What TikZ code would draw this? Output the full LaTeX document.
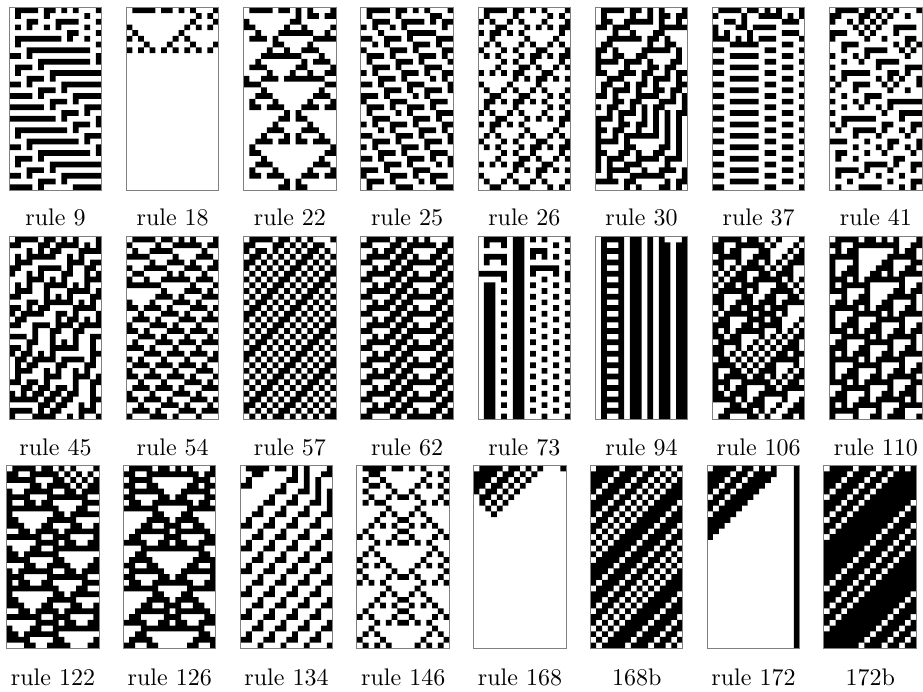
\documentclass[tikz,border=0pt]{standalone}
\usepackage{tikz}

\makeatletter
\newcount\ca@i \newcount\ca@k \newcount\ca@l \newcount\ca@r \newcount\ca@y \newcount\ca@t
% bits of the rule number -> \ca@b@0 ... \ca@b@7
\def\ca@rulebits#1{\ca@t=#1\relax \ca@k=0\relax
  \loop
    \ca@i=\ca@t\relax \divide\ca@i by 2\relax \multiply\ca@i by 2\relax
    \expandafter\edef\csname ca@b@\the\ca@k\endcsname{\the\numexpr\ca@t-\ca@i\relax}%
    \divide\ca@t by 2\relax
    \advance\ca@k by 1\relax
  \ifnum\ca@k<8 \repeat}
% first row, 16 digits
\def\ca@parse#1{\ca@i=0\relax\ca@parse@#1\relax}
\def\ca@parse@#1{\ifx\relax#1\else
    \expandafter\def\csname ca@o@\the\ca@i\endcsname{#1}%
    \advance\ca@i by 1\relax
    \expandafter\ca@parse@\fi}
% one time step, periodic ends
\def\ca@step{%
  \ca@i=0\relax
  \loop
    \ca@l=\ca@i\relax \advance\ca@l by -1\relax \ifnum\ca@l<0 \ca@l=15\relax\fi
    \ca@r=\ca@i\relax \advance\ca@r by 1\relax \ifnum\ca@r>15 \ca@r=0\relax\fi
    \ca@k=\numexpr 4*\csname ca@o@\the\ca@l\endcsname
      +2*\csname ca@o@\the\ca@i\endcsname
      +\csname ca@o@\the\ca@r\endcsname\relax
    \expandafter\edef\csname ca@n@\the\ca@i\endcsname{\csname ca@b@\the\ca@k\endcsname}%
    \advance\ca@i by 1\relax
  \ifnum\ca@i<16 \repeat
  \ca@i=0\relax
  \loop
    \expandafter\edef\csname ca@o@\the\ca@i\endcsname{\csname ca@n@\the\ca@i\endcsname}%
    \advance\ca@i by 1\relax
  \ifnum\ca@i<16 \repeat}
% black cells of the current row
\def\ca@addrow{%
  \ca@i=0\relax
  \loop
    \if1\csname ca@o@\the\ca@i\endcsname
      \edef\ca@path{\ca@path (\the\ca@i,\the\ca@y) rectangle ++(1,1)}%
    \fi
    \advance\ca@i by 1\relax
  \ifnum\ca@i<16 \repeat}
\def\ca@rows{\ca@addrow\ca@step\advance\ca@y by 1\relax
  \ifnum\ca@y<32 \expandafter\ca@rows\fi}
\newcommand\castrip[2]{%
  \ca@rulebits{#1}%
  \edef\ca@init{#2}\expandafter\ca@parse\expandafter{\ca@init}%
  \def\ca@path{}\ca@y=0\relax\ca@rows
  \edef\ca@do{\noexpand\fill\ca@path;}\ca@do}
\makeatother

\def\initrow{0111101101010001}
\def\initb{0111101110110101}

\begin{document}
\begin{tikzpicture}[x=0.4167pt, y=-0.4167pt,
    cell/.style={x=2.408pt, y=-2.379pt},
    frame/.style={draw=black!50, line width=0.4pt},
    caption/.style={anchor=base}]
  \useasboundingbox (0,0) rectangle (923,691);

  % top row
  \foreach \rn [count=\j from 0] in {9,18,22,25,26,30,37,41} {
    \begin{scope}[shift={(9.3+117.2*\j,7.4)}, cell]
      \castrip{\rn}{\initrow}
      \draw[frame] (0,0) rectangle (16,32);
    \end{scope}
    \node[caption] (lab\rn) at (55.5+117.2*\j,225) {rule \rn};
  }

  % middle row
  \foreach \rn [count=\j from 0] in {45,54,57,62,73,94,106,110} {
    \begin{scope}[shift={(9.3+117.2*\j,236.7)}, cell]
      \castrip{\rn}{\initrow}
      \draw[frame] (0,0) rectangle (16,32);
    \end{scope}
    \node[caption] (lab\rn) at (55.5+117.2*\j,455) {rule \rn};
  }

  % bottom row
  \foreach \rn/\txt/\ini [count=\j from 0] in {122/rule 122/\initrow,
      126/rule 126/\initrow, 134/rule 134/\initrow, 146/rule 146/\initrow,
      168/rule 168/\initrow, 168/168b/\initb, 172/rule 172/\initrow, 172/172b/\initb} {
    \begin{scope}[shift={(6.7+116.75*\j,465.7)}, cell]
      \castrip{\rn}{\ini}
      \draw[frame] (0,0) rectangle (16,32);
    \end{scope}
    \node[caption] (labc\j) at (53+116.75*\j,685) {\txt};
  }
\end{tikzpicture}
\end{document}
